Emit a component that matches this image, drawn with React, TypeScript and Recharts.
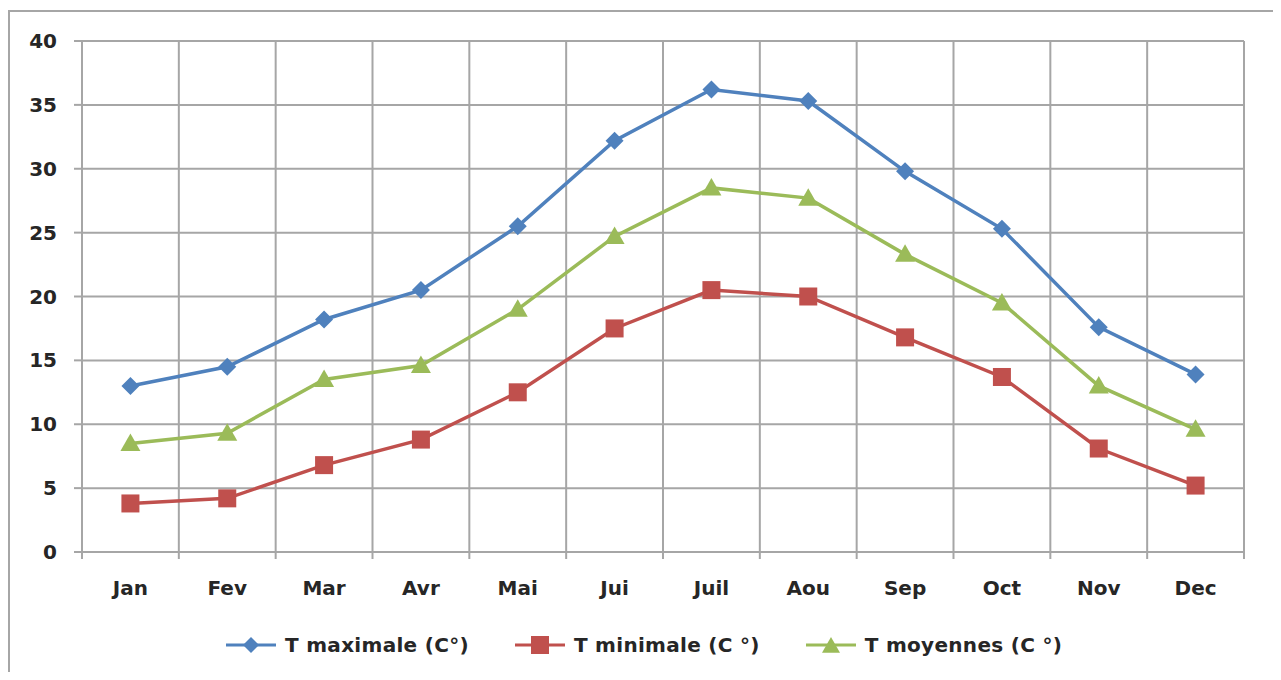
import React from 'react';
import { LineChart, Line, XAxis, YAxis, CartesianGrid } from 'recharts';

const months = ['Jan', 'Fev', 'Mar', 'Avr', 'Mai', 'Jui', 'Juil', 'Aou', 'Sep', 'Oct', 'Nov', 'Dec'];
const tMax = [13.0, 14.5, 18.2, 20.5, 25.5, 32.2, 36.2, 35.3, 29.8, 25.3, 17.6, 13.9];
const tMin = [3.8, 4.2, 6.8, 8.8, 12.5, 17.5, 20.5, 20.0, 16.8, 13.7, 8.1, 5.2];
const tMoy = [8.5, 9.3, 13.5, 14.6, 19.0, 24.7, 28.5, 27.7, 23.3, 19.5, 13.0, 9.6];
const yTicks = [0, 5, 10, 15, 20, 25, 30, 35, 40];

const BLUE = '#4F81BD';
const RED = '#C0504D';
const GREEN = '#9BBB59';
const GRID = '#a6a6a6';
const TEXT = '#262626';
const FONT = '"DejaVu Sans", sans-serif';
const X_MARGIN = 24;

const data = months.map((m, i) => ({
  month: m,
  max: tMax[i],
  min: tMin[i],
  moy: tMoy[i],
}));

function Diamond({ cx, cy, fill, size = 9 }: any) {
  if (cx == null || cy == null) return null;
  return (
    <polygon
      points={`${cx},${cy - size} ${cx + size},${cy} ${cx},${cy + size} ${cx - size},${cy}`}
      fill={fill}
    />
  );
}

function Square({ cx, cy, fill, size = 9 }: any) {
  if (cx == null || cy == null) return null;
  return <rect x={cx - size} y={cy - size} width={size * 2} height={size * 2} fill={fill} />;
}

function Triangle({ cx, cy, fill, size = 10 }: any) {
  if (cx == null || cy == null) return null;
  return (
    <polygon
      points={`${cx},${cy - size} ${cx + size},${cy + size * 0.75} ${cx - size},${cy + size * 0.75}`}
      fill={fill}
    />
  );
}

// month label plus the small tick marks at the category boundaries
function XTick({ x, y, payload, index }: any) {
  const half = payload?.offset ?? 0;
  const axisY = y - X_MARGIN;
  return (
    <g>
      <line x1={x - half} y1={axisY} x2={x - half} y2={axisY + 7} stroke={GRID} strokeWidth={2} />
      {index === months.length - 1 && (
        <line x1={x + half} y1={axisY} x2={x + half} y2={axisY + 7} stroke={GRID} strokeWidth={2} />
      )}
      <text
        x={x}
        y={y + 5}
        dy="0.71em"
        textAnchor="middle"
        fill={TEXT}
        fontFamily={FONT}
        fontWeight={700}
        fontSize={20}
      >
        {payload.value}
      </text>
    </g>
  );
}

function LegendItem({ color, label, marker }: { color: string; label: string; marker: string }) {
  return (
    <div style={{ display: 'flex', alignItems: 'center', marginRight: 46 }}>
      <svg width={50} height={22} style={{ marginRight: 9 }}>
        <line x1={0} y1={11} x2={50} y2={11} stroke={color} strokeWidth={3} />
        {marker === 'diamond' && <Diamond cx={25} cy={11} fill={color} size={8} />}
        {marker === 'square' && <Square cx={25} cy={11} fill={color} size={9} />}
        {marker === 'triangle' && <Triangle cx={25} cy={12} fill={color} size={9} />}
      </svg>
      <span>{label}</span>
    </div>
  );
}

const gridX = ({ offset }: any) =>
  Array.from({ length: months.length + 1 }, (_, i) => offset.left + (i * offset.width) / months.length);

export default function App() {
  return (
    <div style={{ position: 'relative', width: 1281, height: 680, margin: -8, background: '#fff', overflow: 'hidden' }}>
      <div
        style={{
          position: 'absolute',
          left: 8,
          top: 10,
          width: 1268,
          height: 700,
          border: '2px solid #a6a6a6',
          boxSizing: 'border-box',
        }}
      />
      <div style={{ position: 'absolute', left: 0, top: 0 }}>
        <LineChart width={1281} height={680} data={data} margin={{ top: 41, right: 37, left: 0, bottom: 41 }}>
          <CartesianGrid stroke={GRID} strokeWidth={2} verticalCoordinatesGenerator={gridX} />
          <XAxis
            dataKey="month"
            scale="band"
            height={87}
            tickLine={false}
            tickSize={0}
            axisLine={false}
            tickMargin={X_MARGIN}
            tick={<XTick />}
          />
          <YAxis
            width={82}
            domain={[0, 40]}
            ticks={yTicks}
            axisLine={false}
            tickLine={{ stroke: GRID, strokeWidth: 2 }}
            tickSize={8}
            tickMargin={17}
            tick={{ fontSize: 20, fill: TEXT, fontFamily: FONT, fontWeight: 700 }}
          />
          <Line
            dataKey="max"
            stroke={BLUE}
            strokeWidth={3.5}
            isAnimationActive={false}
            dot={(p: any) => <Diamond key={p.index} cx={p.cx} cy={p.cy} fill={BLUE} size={9} />}
            activeDot={false}
          />
          <Line
            dataKey="min"
            stroke={RED}
            strokeWidth={3.5}
            isAnimationActive={false}
            dot={(p: any) => <Square key={p.index} cx={p.cx} cy={p.cy} fill={RED} size={9} />}
            activeDot={false}
          />
          <Line
            dataKey="moy"
            stroke={GREEN}
            strokeWidth={3.5}
            isAnimationActive={false}
            dot={(p: any) => <Triangle key={p.index} cx={p.cx} cy={p.cy} fill={GREEN} size={10} />}
            activeDot={false}
          />
        </LineChart>
      </div>
      <div
        style={{
          position: 'absolute',
          left: 226,
          top: 633,
          display: 'flex',
          fontFamily: FONT,
          fontWeight: 700,
          fontSize: 20,
          letterSpacing: 0.3,
          color: TEXT,
        }}
      >
        <LegendItem color={BLUE} label="T maximale (C°)" marker="diamond" />
        <LegendItem color={RED} label="T minimale (C °)" marker="square" />
        <LegendItem color={GREEN} label="T moyennes (C °)" marker="triangle" />
      </div>
    </div>
  );
}
